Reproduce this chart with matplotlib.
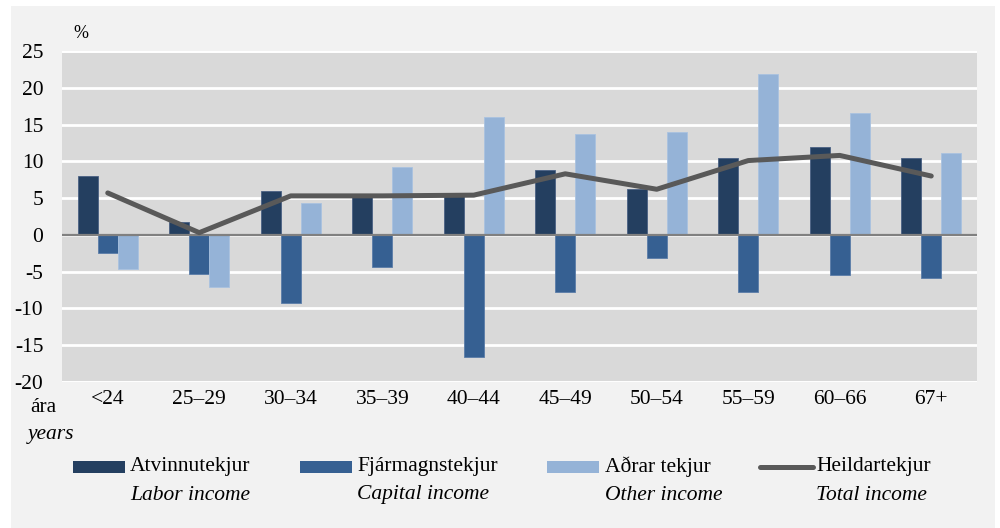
import numpy as np
import matplotlib.pyplot as plt
from matplotlib.patches import Rectangle
from matplotlib.lines import Line2D

# data (%)
age_groups = ["<24", "25\u201329", "30\u201334", "35\u201339", "40\u201344",
              "45\u201349", "50\u201354", "55\u201359", "60\u201366", "67+"]
labor = [8.0, 1.8, 5.9, 5.2, 5.3, 8.8, 6.2, 10.4, 12.0, 10.4]
capital = [-2.5, -5.3, -9.2, -4.3, -16.6, -7.7, -3.1, -7.7, -5.4, -5.9]
other = [-4.7, -7.1, 4.4, 9.2, 16.0, 13.7, 14.0, 21.9, 16.5, 11.1]
total = [5.7, 0.3, 5.3, 5.3, 5.4, 8.3, 6.2, 10.1, 10.8, 8.0]

names_is = ["Atvinnutekjur", "Fjármagnstekjur", "Aðrar tekjur", "Heildartekjur"]
names_en = ["Labor income", "Capital income", "Other income", "Total income"]
yticks = [-20, -15, -10, -5, 0, 5, 10, 15, 20, 25]

c_labor = "#243f60"
c_capital = "#366092"
c_other = "#95b3d7"
c_total = "#595959"

plt.rcParams['font.family'] = ['Liberation Serif', 'DejaVu Serif']
fs = 15.5

fig = plt.figure(figsize=(10, 5.28), dpi=100, facecolor='white')
fig.add_artist(Rectangle((0.011, 0.0), 0.984, 0.989, transform=fig.transFigure,
                         facecolor="#f2f2f2", edgecolor="none", zorder=-10))

ax = fig.add_axes([0.062, 0.2765, 0.915, 0.627])
ax.set_facecolor("#d9d9d9")
x = np.arange(len(age_groups))
w = 0.22
ax.bar(x - w, labor, w, color=c_labor, edgecolor="#4a6183", linewidth=0.6, zorder=3)
ax.bar(x, capital, w, color=c_capital, edgecolor="#5a7ca8", linewidth=0.6, zorder=3)
ax.bar(x + w, other, w, color=c_other, edgecolor="#a9c2e0", linewidth=0.6, zorder=3)
ax.plot(x, total, color=c_total, linewidth=3.6, solid_capstyle='round', zorder=4)
ax.axhline(0, color="#808080", linewidth=1.6, zorder=3.5)

ax.set_xlim(-0.5, len(age_groups) - 0.5)
ax.set_ylim(-20, 25)
ax.set_yticks(yticks)
ax.set_yticklabels([str(v) for v in yticks], fontsize=fs)
ax.yaxis.grid(True, color="white", linewidth=2, zorder=1)
ax.set_axisbelow(True)
ax.set_xticks(x)
ax.set_xticklabels(age_groups, fontsize=fs)
ax.tick_params(length=0, pad=6)
ax.tick_params(axis='y', pad=13.5)
for s in ax.spines.values():
    s.set_visible(False)
ax.axhline(25, color="white", linewidth=2, zorder=1)
ax.axhline(-20, color="white", linewidth=2, zorder=1)

fig.text(0.073, 1 - 33 / 528, "%", fontsize=13, va='center')
fig.text(0.030, 1 - 408 / 528, "ára", fontsize=fs, va='center')
fig.text(0.028, 1 - 434 / 528, "years", fontsize=fs, style='italic', va='center')

# legend drawn by hand: handle, name, english name in italics below
handle_x = [0.073, 0.300, 0.547, 0.757]
text_x = [0.130, 0.357, 0.605, 0.816]
colors = [c_labor, c_capital, c_other, c_total]
yl = 1 - 467 / 528
for i in range(4):
    if i < 3:
        fig.add_artist(Rectangle((handle_x[i], yl - 0.0105), 0.052, 0.021,
                                 transform=fig.transFigure, facecolor=colors[i],
                                 edgecolor="none"))
    else:
        fig.add_artist(Line2D([handle_x[i] + 0.003, handle_x[i] + 0.056], [yl, yl],
                              transform=fig.transFigure, color=colors[i],
                              linewidth=3.6, solid_capstyle='round'))
    fig.text(text_x[i], yl, names_is[i], fontsize=fs, va='center')
    fig.text(text_x[i], 1 - 495 / 528, names_en[i], fontsize=fs,
             style='italic', va='center')

fig.savefig("out.png", dpi=100, facecolor='white')
